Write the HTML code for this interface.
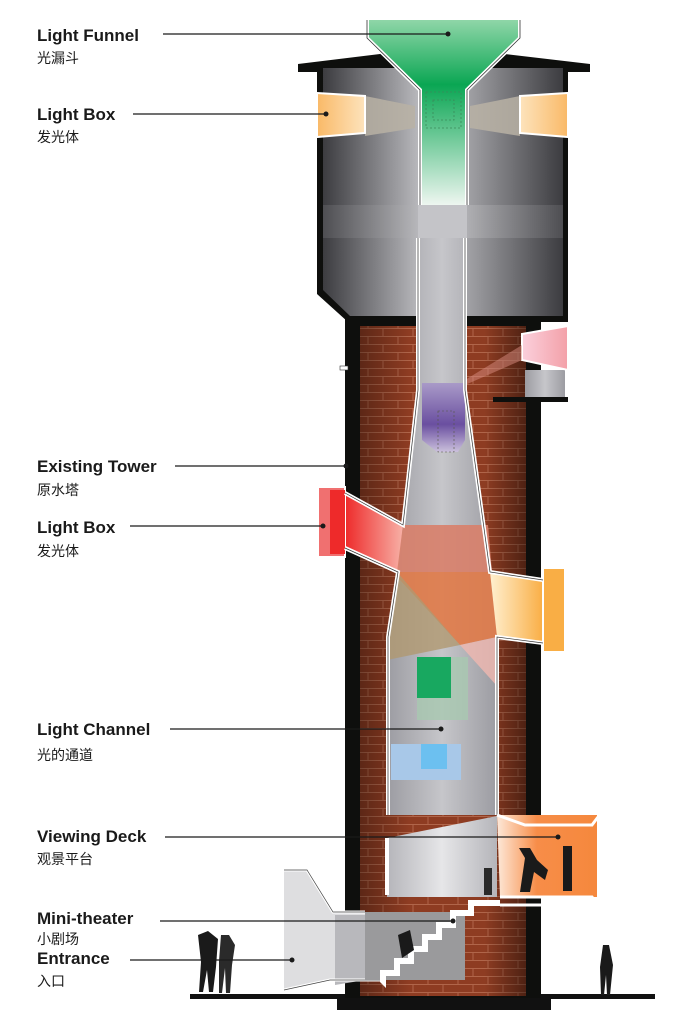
<!DOCTYPE html>
<html><head><meta charset="utf-8"><style>
html,body{margin:0;padding:0;background:#fff;width:697px;height:1036px;overflow:hidden}
svg{display:block}
.l{font-family:"Liberation Sans",sans-serif;font-weight:bold;font-size:17px;fill:#1a1a1a}
.c{font-family:"Liberation Sans","Noto Sans CJK SC",sans-serif;font-size:14px;fill:#1a1a1a}
</style></head><body>
<svg width="697" height="1036" viewBox="0 0 697 1036" xmlns="http://www.w3.org/2000/svg">
<defs>
<pattern id="brick" width="30" height="16" patternUnits="userSpaceOnUse">
<rect width="30" height="16" fill="#8e3c22"/>
<path d="M0 0.5H30M0 8.5H30M8 0V8M23 8V16" stroke="#b0654a" stroke-width="1" fill="none"/>
</pattern>
<linearGradient id="brickShade" x1="0" x2="1"><stop offset="0" stop-color="#000" stop-opacity="0.35"/><stop offset="0.3" stop-color="#000" stop-opacity="0"/><stop offset="0.75" stop-color="#000" stop-opacity="0"/><stop offset="1" stop-color="#000" stop-opacity="0.45"/></linearGradient>
<linearGradient id="tank" x1="0" x2="1"><stop offset="0" stop-color="#3c3c40"/><stop offset="0.45" stop-color="#c8c8cc"/><stop offset="1" stop-color="#3c3c40"/></linearGradient>
<linearGradient id="band" x1="0" x2="1"><stop offset="0" stop-color="#5a5a5e"/><stop offset="0.5" stop-color="#cfcfd2"/><stop offset="1" stop-color="#5a5a5e"/></linearGradient>
<linearGradient id="shaft" x1="0" x2="1"><stop offset="0" stop-color="#9c9ca2"/><stop offset="0.5" stop-color="#c6c6ca"/><stop offset="1" stop-color="#9c9ca2"/></linearGradient>
<linearGradient id="green" x1="0" y1="0" x2="0" y2="1"><stop offset="0" stop-color="#8fd6a8"/><stop offset="0.35" stop-color="#0aa653"/><stop offset="1" stop-color="#eef6f0"/></linearGradient>
<linearGradient id="orL" x1="0" x2="1"><stop offset="0" stop-color="#f9b967"/><stop offset="1" stop-color="#fde3bc"/></linearGradient>
<linearGradient id="orR" x1="1" x2="0"><stop offset="0" stop-color="#f9b967"/><stop offset="1" stop-color="#fde3bc"/></linearGradient>
<linearGradient id="red" x1="0" x2="1"><stop offset="0" stop-color="#ee2a2a"/><stop offset="1" stop-color="#f7b0a6"/></linearGradient>
<linearGradient id="or2" x1="0" x2="1"><stop offset="0" stop-color="#fff0d0"/><stop offset="1" stop-color="#f9ae45"/></linearGradient>
<linearGradient id="pink" x1="0" x2="1"><stop offset="0" stop-color="#fbd0dc"/><stop offset="1" stop-color="#f3a0a8"/></linearGradient>
<linearGradient id="purple" x1="0" y1="0" x2="0" y2="1"><stop offset="0" stop-color="#a99ac8"/><stop offset="0.6" stop-color="#6a4fa0"/><stop offset="1" stop-color="#cbc0dc"/></linearGradient>
<linearGradient id="room" x1="0" x2="1"><stop offset="0" stop-color="#b5b5ba"/><stop offset="0.5" stop-color="#e6e6e8"/><stop offset="1" stop-color="#b5b5ba"/></linearGradient>
<linearGradient id="deck" x1="0" x2="1"><stop offset="0" stop-color="#fde8d8"/><stop offset="0.4" stop-color="#f78d48"/><stop offset="1" stop-color="#f5883d"/></linearGradient>
</defs>

<rect x="190" y="994" width="465" height="5" fill="#111"/>
<rect x="337" y="996" width="214" height="14" fill="#111"/>

<rect x="345" y="318" width="196" height="680" fill="#0e0f0d"/>
<rect x="360" y="326" width="166" height="670" fill="url(#brick)"/>
<rect x="360" y="326" width="166" height="670" fill="url(#brickShade)"/>

<polygon points="298,64 380,54 505,54 590,64 590,72 568,72 568,322 348,322 317,294 317,72 298,72" fill="#0e0f0d"/>
<polygon points="323,68 563,68 563,316 350,316 323,290" fill="url(#tank)"/>
<rect x="323" y="205" width="240" height="33" fill="url(#band)" opacity="0.6"/>
<rect x="418" y="205" width="49" height="33" fill="#c4c4c8"/>
<polygon points="365,96 415,106 415,128 365,136" fill="#b9b2a4" opacity="0.85"/>
<polygon points="470,106 520,96 520,136 470,128" fill="#b9b2a4" opacity="0.85"/>
<polygon points="317,93 365,96 365,133 317,137" fill="url(#orL)" stroke="#fff" stroke-width="2"/>
<polygon points="520,96 568,93 568,137 520,133" fill="url(#orR)" stroke="#fff" stroke-width="2"/>
<polygon points="367,20 520,20 520,38 467,90 467,205 420,205 420,90 367,38" fill="url(#green)"/>
<path d="M367,20 V38 L420,90 V205 M520,20 V38 L467,90 V205" stroke="#fff" stroke-width="4" fill="none"/>
<path d="M367,20 V38 L420,90 V205 M520,20 V38 L467,90 V205" stroke="#333" stroke-width="0.8" fill="none"/>
<rect x="426" y="92" width="35" height="36" fill="none" stroke="#3a8a5a" stroke-dasharray="2,2" stroke-width="0.8"/>
<rect x="433" y="100" width="21" height="20" fill="none" stroke="#3a8a5a" stroke-dasharray="2,2" stroke-width="0.8"/>

<rect x="525" y="370" width="40" height="28" fill="url(#shaft)"/>
<polygon points="522,334 568,326 568,370 522,360" fill="url(#pink)" stroke="#fff" stroke-width="2"/>
<rect x="493" y="397" width="75" height="5" fill="#0e0f0d"/>
<polygon points="465,380 522,345 522,360 465,385" fill="#d88c80" opacity="0.5"/>
<rect x="340" y="366" width="8" height="4" fill="#fff" stroke="#333" stroke-width="0.6"/>

<polygon points="418,238 465,238 465,390 490,572 497,637 497,815 387,815 387,637 397,572 403,525 418,390" fill="url(#shaft)"/>
<polygon points="422,383 465,383 465,440 458,452 437,452 422,440" fill="url(#purple)"/>
<rect x="438" y="411" width="16" height="41" fill="none" stroke="#554" stroke-width="0.6" stroke-dasharray="2,2"/>
<polygon points="345,493 403,525 398,572 345,548" fill="url(#red)"/>
<polygon points="318,487 345,487 345,557 318,557" fill="#f07070" stroke="#fff" stroke-width="2"/>
<rect x="330" y="490" width="15" height="64" fill="#ee2a2a"/>
<polygon points="403,525 488,525 492,572 397,572" fill="#d8806a" opacity="0.9"/>
<polygon points="397,572 492,572 497,637 460,645 400,580" fill="#e07a48" opacity="0.9"/>
<polygon points="397,572 460,645 387,660 388,637" fill="#b09870" opacity="0.8"/>
<polygon points="460,645 497,637 497,686" fill="#f0b8b0" opacity="0.8"/>
<polygon points="490,572 543,580 543,643 497,637" fill="url(#or2)"/>
<polygon points="543,568 565,568 565,652 543,652" fill="#f9ae45" stroke="#fff" stroke-width="2"/>
<rect x="417" y="657" width="51" height="63" fill="#a8c8b0" opacity="0.8"/>
<rect x="417" y="657" width="34" height="41" fill="#18a860"/>
<rect x="391" y="744" width="70" height="36" fill="#a8c8e8"/>
<rect x="421" y="744" width="26" height="25" fill="#6cc0f0"/>
<path d="M418,238 V390 L403,525 L345,493 M345,548 L398,572 L388,637 V815 M465,238 V390 L490,572 L543,580 M543,643 L497,637 V815" stroke="#fff" stroke-width="4" fill="none"/>
<path d="M418,238 V390 L403,525 L345,493 M345,548 L398,572 L388,637 V815 M465,238 V390 L490,572 L543,580 M543,643 L497,637 V815" stroke="#333" stroke-width="0.7" fill="none"/>

<polygon points="387,838 497,816 497,897 387,897" fill="url(#room)"/>
<polygon points="497,815 597,815 597,897 500,897" fill="url(#deck)"/>
<path d="M497,815 L525,825 H592 L598,817 M500,897 H592 L598,905 H500" stroke="#fff" stroke-width="3" fill="none"/>
<rect x="385" y="838" width="4" height="57" fill="#fff"/>
<path d="M519,848 L525,858 L520,892 L530,892 L534,872 L545,880 L548,870 L537,860 L530,848 Z" fill="#1a1a1a"/>
<rect x="563" y="846" width="9" height="45" fill="#1a1a1a"/>
<rect x="484" y="868" width="8" height="27" fill="#2a2a2a"/>

<polygon points="284,870 307,870 333,912 365,912 365,980 330,980 284,990" fill="#dedee0"/>
<polygon points="335,915 365,915 365,980 335,985" fill="#b8b8bc"/>
<path d="M284,870 H307 L333,912 H365 M284,990 L330,980 H380" stroke="#fff" stroke-width="3" fill="none"/>
<path d="M284,870 H307 L333,912 H365 M284,990 L330,980 H380" stroke="#444" stroke-width="0.7" fill="none"/>
<rect x="365" y="912" width="100" height="68" fill="#9a9a9c"/>
<polygon points="380,982 380,970 394,970 394,958 408,958 408,946 422,946 422,934 436,934 436,922 450,922 450,910 468,910 468,900 500,900 500,906 474,906 474,916 456,916 456,928 442,928 442,940 428,940 428,952 414,952 414,964 400,964 400,976 386,976 386,988" fill="#fff"/>
<path d="M398,935 L410,930 L414,950 L402,958 Z" fill="#1a1a1a"/>

<path d="M198,935 l10,-4 10,8 -2,28 -3,25 h-4 l-2,-22 -4,22 h-4 l2,-30 z" fill="#1a1a1a"/>
<path d="M221,935 l8,0 6,10 -3,20 -2,28 h-4 l-1,-25 -3,25 h-3 l0,-32 z" fill="#2a2a2a"/>
<path d="M603,945 l6,0 4,20 -3,30 h-3 l-1,-20 -2,20 h-3 l-1,-28 z" fill="#1a1a1a"/>

<g stroke="#1a1a1a" stroke-width="1.2">
<line x1="163" y1="34" x2="448" y2="34"/>
<line x1="133" y1="114" x2="326" y2="114"/>
<line x1="175" y1="466" x2="346" y2="466"/>
<line x1="130" y1="526" x2="323" y2="526"/>
<line x1="170" y1="729" x2="441" y2="729"/>
<line x1="165" y1="837" x2="558" y2="837"/>
<line x1="160" y1="921" x2="453" y2="921"/>
<line x1="130" y1="960" x2="292" y2="960"/>
</g>
<g fill="#1a1a1a">
<circle cx="448" cy="34" r="2.5"/><circle cx="326" cy="114" r="2.5"/><circle cx="346" cy="466" r="2.5"/><circle cx="323" cy="526" r="2.5"/><circle cx="441" cy="729" r="2.5"/><circle cx="558" cy="837" r="2.5"/><circle cx="453" cy="921" r="2.5"/><circle cx="292" cy="960" r="2.5"/>
</g>

<text class="l" x="37" y="41">Light Funnel</text><text class="c" x="37" y="63">光漏斗</text>
<text class="l" x="37" y="120">Light Box</text><text class="c" x="37" y="142">发光体</text>
<text class="l" x="37" y="472">Existing Tower</text><text class="c" x="37" y="495">原水塔</text>
<text class="l" x="37" y="533">Light Box</text><text class="c" x="37" y="556">发光体</text>
<text class="l" x="37" y="735">Light Channel</text><text class="c" x="37" y="760">光的通道</text>
<text class="l" x="37" y="842">Viewing Deck</text><text class="c" x="37" y="864">观景平台</text>
<text class="l" x="37" y="924">Mini-theater</text><text class="c" x="37" y="944">小剧场</text>
<text class="l" x="37" y="964">Entrance</text><text class="c" x="37" y="986">入口</text>
</svg>
</body></html>
